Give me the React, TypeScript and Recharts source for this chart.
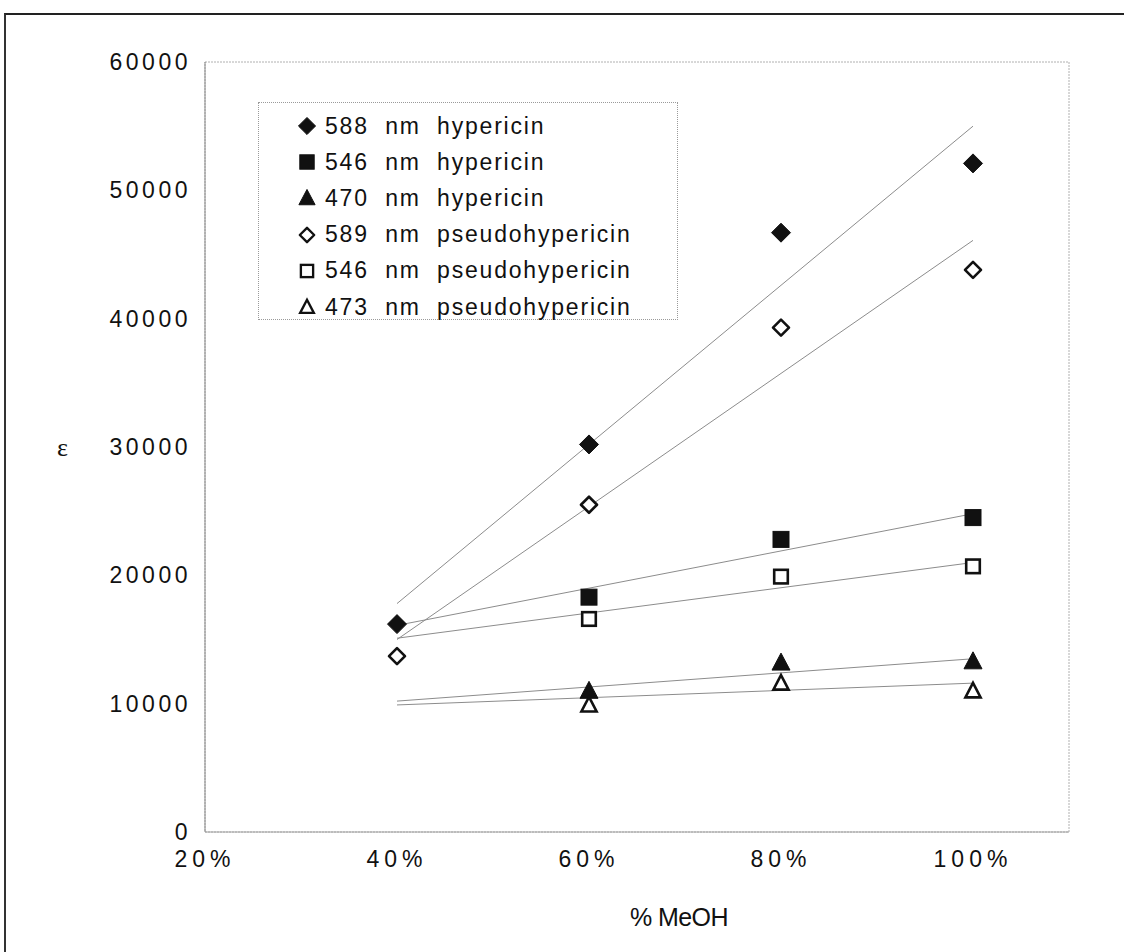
import React from 'react';
import { ScatterChart, Scatter, XAxis, YAxis, ReferenceArea, Legend, Label } from 'recharts';

// Methanol content (%) at which the absorbance was measured
const fullPct = [40, 60, 80, 100];
const partPct = [60, 80, 100];

// Molar absorptivity values
const hyp588 = [16200, 30200, 46700, 52100];
const hyp546 = [18300, 22800, 24500];
const hyp470 = [11000, 13200, 13300];
const pseudo589 = [13700, 25500, 39300, 43800];
const pseudo546 = [16600, 19900, 20700];
const pseudo473 = [9900, 11600, 11000];

// Linear trend lines, end points at 40 % and 100 %
const trendPct = [40, 100];
const trendHyp588 = [17800, 55000];
const trendHyp546 = [16100, 24800];
const trendHyp470 = [10200, 13500];
const trendPseudo589 = [15000, 46100];
const trendPseudo546 = [15100, 21000];
const trendPseudo473 = [9900, 11600];

const xTicks = [20, 40, 60, 80, 100];
const yTicks = [0, 10000, 20000, 30000, 40000, 50000, 60000];

type Kind = 'diamond' | 'square' | 'triangle';

const pts = (xs: number[], ys: number[]) => xs.map((x, i) => ({ x, y: ys[i] }));

const seriesList: { name: string; kind: Kind; filled: boolean; data: { x: number; y: number }[]; trend: { x: number; y: number }[] }[] = [
  { name: '588  nm  hypericin', kind: 'diamond', filled: true, data: pts(fullPct, hyp588), trend: pts(trendPct, trendHyp588) },
  { name: '546  nm  hypericin', kind: 'square', filled: true, data: pts(partPct, hyp546), trend: pts(trendPct, trendHyp546) },
  { name: '470  nm  hypericin', kind: 'triangle', filled: true, data: pts(partPct, hyp470), trend: pts(trendPct, trendHyp470) },
  { name: '589  nm  pseudohypericin', kind: 'diamond', filled: false, data: pts(fullPct, pseudo589), trend: pts(trendPct, trendPseudo589) },
  { name: '546  nm  pseudohypericin', kind: 'square', filled: false, data: pts(partPct, pseudo546), trend: pts(trendPct, trendPseudo546) },
  { name: '473  nm  pseudohypericin', kind: 'triangle', filled: false, data: pts(partPct, pseudo473), trend: pts(trendPct, trendPseudo473) },
];

const INK = '#111';
const FONT = '"Liberation Sans", Arial, Helvetica, sans-serif';

function Marker({ cx, cy, kind, filled, scale = 1 }: { cx: number; cy: number; kind: Kind; filled: boolean; scale?: number }) {
  const fill = filled ? INK : '#fff';
  const sw = filled ? 1 : 2.6 * scale;
  if (kind === 'diamond') {
    const r = (filled ? 9.5 : 8) * scale;
    return <polygon points={`${cx},${cy - r} ${cx + r},${cy} ${cx},${cy + r} ${cx - r},${cy}`} fill={fill} stroke={INK} strokeWidth={sw} strokeLinejoin="round" />;
  }
  if (kind === 'square') {
    const h = (filled ? 8 : 6.8) * scale;
    return <rect x={cx - h} y={cy - h} width={2 * h} height={2 * h} fill={fill} stroke={INK} strokeWidth={sw} />;
  }
  const w = (filled ? 9 : 7.6) * scale;
  const t = (filled ? 9.5 : 8) * scale;
  const b = (filled ? 7.5 : 6.5) * scale;
  return <polygon points={`${cx},${cy - t} ${cx + w},${cy + b} ${cx - w},${cy + b}`} fill={fill} stroke={INK} strokeWidth={sw} strokeLinejoin="miter" />;
}

const LegendBox = () => (
  <div
    style={{
      width: 420,
      height: 218,
      border: '1px dotted #9a9a9a',
      boxSizing: 'border-box',
      background: '#fff',
      paddingTop: 5,
      fontFamily: FONT,
      fontSize: 23,
      letterSpacing: 1.8,
      color: INK,
    }}
  >
    {seriesList.map((s) => (
      <div key={s.name} style={{ height: 36.2, display: 'flex', alignItems: 'center', whiteSpace: 'pre' }}>
        <svg width={66} height={30} style={{ flex: 'none' }}>
          <Marker cx={48} cy={15} kind={s.kind} filled={s.filled} scale={0.9} />
        </svg>
        <span>{s.name}</span>
      </div>
    ))}
  </div>
);

const noDot = () => <g />;

export default function App() {
  return (
    <div style={{ position: 'absolute', left: 0, top: 0, width: 1124, height: 952, background: '#fff' }}>
      <div
        style={{
          position: 'absolute',
          left: 4,
          top: 13,
          width: 1130,
          height: 950,
          borderTop: '2px solid #222',
          borderLeft: '2px solid #333',
        }}
      />
      <ScatterChart width={1124} height={952} margin={{ top: 62, right: 55, bottom: 0, left: 0 }}>
        <ReferenceArea x1={20} x2={110} y1={0} y2={60000} fill="none" stroke="#b0b0b0" strokeDasharray="2 1" ifOverflow="visible" />
        <XAxis
          type="number"
          dataKey="x"
          domain={[20, 110]}
          ticks={xTicks}
          tickFormatter={(v: number) => `${v}%`}
          height={120}
          axisLine={{ stroke: '#a0a0a0' }}
          tickLine={false}
          tick={{ fill: INK, fontSize: 23, fontFamily: FONT, letterSpacing: 5, dy: 11 }}
        >
          <Label
            value="% MeOH"
            position="insideBottom"
            offset={26}
            dx={42}
            style={{ fill: INK, fontSize: 25, letterSpacing: -0.6, fontFamily: '"Liberation Sans Narrow", "Liberation Sans", Arial, sans-serif' }}
          />
        </XAxis>
        <YAxis
          type="number"
          dataKey="y"
          domain={[0, 60000]}
          ticks={yTicks}
          width={205}
          axisLine={{ stroke: '#8a8a8a' }}
          tickLine={false}
          tickMargin={8}
          tick={{ fill: INK, fontSize: 23, fontFamily: FONT, letterSpacing: 3.5 }}
        >
          <Label
            value="ε"
            position="insideLeft"
            offset={57}
            style={{ fill: INK, fontSize: 26, fontFamily: '"Liberation Serif", "DejaVu Serif", serif' }}
          />
        </YAxis>
        {seriesList.map((s) => (
          <Scatter
            key={`trend-${s.name}`}
            data={s.trend}
            line={{ stroke: '#8c8c8c', strokeWidth: 1 }}
            shape={noDot}
            legendType="none"
            isAnimationActive={false}
          />
        ))}
        {seriesList.map((s) => (
          <Scatter
            key={s.name}
            name={s.name}
            data={s.data}
            isAnimationActive={false}
            shape={(p: any) => <Marker cx={p.cx} cy={p.cy} kind={s.kind} filled={s.filled} />}
          />
        ))}
        <Legend
          layout="vertical"
          align="center"
          verticalAlign="middle"
          content={() => <LegendBox />}
          wrapperStyle={{ position: 'absolute', left: 258, top: 102, width: 420, height: 218 }}
        />
      </ScatterChart>
    </div>
  );
}
